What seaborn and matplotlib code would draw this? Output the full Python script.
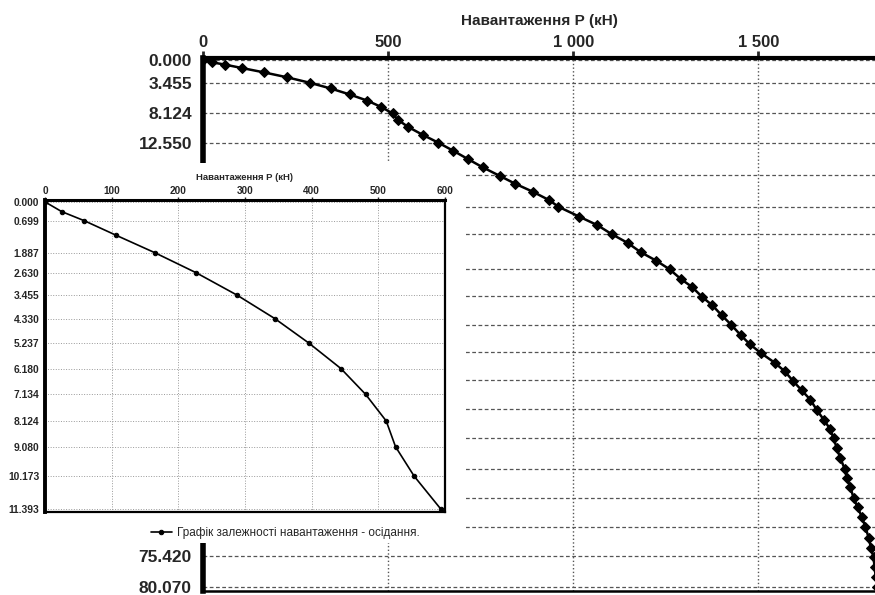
import matplotlib
matplotlib.use("Agg")
import matplotlib.pyplot as plt
import matplotlib.ticker as mticker
from matplotlib.patches import Rectangle
import seaborn as sns
import pandas as pd

# ---------------- data ----------------
load_kN = [0, 25, 59, 106, 165, 227, 288, 345, 396, 444, 481, 512, 526, 554, 594,
           635, 676, 716, 755, 801, 843, 890, 935, 960, 1016, 1065, 1105, 1147, 1182, 1224,
           1260, 1291, 1321, 1348, 1376, 1401, 1426, 1452, 1477, 1506, 1544, 1571, 1594, 1617, 1640,
           1658, 1677, 1694, 1703, 1712, 1721, 1733, 1739, 1748, 1757, 1768, 1780, 1789, 1798, 1804,
           1811, 1814, 1817, 1820]
settlement = [0.000, 0.36, 0.699, 1.23, 1.887, 2.630, 3.455, 4.330, 5.237, 6.180, 7.134, 8.124, 9.080, 10.173, 11.393,
              12.550, 13.8, 15.07, 16.3, 17.6, 18.8, 20.0, 21.3, 22.3, 23.8, 25.1, 26.5, 27.8, 29.2, 30.5,
              31.8, 33.3, 34.5, 36.0, 37.3, 38.8, 40.2, 41.8, 43.2, 44.5, 46.0, 47.3, 48.8, 50.2, 51.6,
              53.2, 54.7, 56.1, 57.5, 59.0, 60.5, 62.1, 63.5, 64.9, 66.5, 68.0, 69.5, 71.0, 72.6, 74.1,
              75.6, 77.1, 78.6, 80.07]
n_inset = 15

main_xticks = [0, 500, 1000, 1500]
main_xticklabels = ["0", "500", "1 000", "1 500"]
main_yticks = [0.000, 3.455, 8.124, 12.550, 17.5, 22.4, 26.5, 31.8, 35.9, 40.2, 44.4,
               48.7, 53.1, 57.4, 62.1, 66.5, 70.9, 75.420, 80.070]
# labels of the middle ticks are covered by the inset in the original
main_yticklabels = ["0.000", "3.455", "8.124", "12.550"] + [""] * 13 + ["75.420", "80.070"]
inset_xticks = [0, 100, 200, 300, 400, 500, 600]
inset_yticks = [0.000, 0.699, 1.887, 2.630, 3.455, 4.330, 5.237, 6.180, 7.134,
                8.124, 9.080, 10.173, 11.393]

x_label = "Навантаження Р (кН)"
legend_label = "Графік залежності навантаження - осідання."

df = pd.DataFrame({"P": load_kN, "s": settlement})
df_in = df.iloc[:n_inset]

# ---------------- style ----------------
sns.set_style("white")
plt.rcParams["font.family"] = ["Liberation Sans", "DejaVu Sans"]
plt.rcParams["font.weight"] = "bold"

fig = plt.figure(figsize=(8.75, 5.95), dpi=100)

# ---------------- main axes ----------------
ax = fig.add_axes([0.232, 0.0067, 0.768, 0.8958])
sns.lineplot(data=df, x="P", y="s", sort=False, ax=ax, color="black", lw=1.8,
             marker="D", markersize=4.6, markeredgecolor="black", markerfacecolor="black",
             legend=False)
ax.set_xlim(0, 1815)
ax.set_ylim(80.7, -0.3)
ax.set_xticks(main_xticks)
ax.set_xticklabels(main_xticklabels)
ax.set_yticks(main_yticks)
ax.set_yticklabels(main_yticklabels)
ax.xaxis.tick_top()
ax.xaxis.set_label_position("top")
ax.set_xlabel(x_label, fontsize=11, fontweight="bold")
ax.xaxis.set_label_coords(0.5, 1.062)
ax.set_ylabel("")
ax.tick_params(axis="y", direction="out", length=6, width=2, labelsize=12.5, pad=2)
ax.tick_params(axis="x", direction="out", length=5, width=2, labelsize=12, pad=1)
ax.grid(axis="y", linestyle=(0, (3, 2)), color="#555555", lw=0.9)
ax.grid(axis="x", linestyle=":", color="#555555", lw=1.0)
for side, lw in [("left", 4), ("top", 3), ("bottom", 1.8)]:
    ax.spines[side].set_linewidth(lw)
    ax.spines[side].set_color("black")
ax.spines["right"].set_visible(False)

# white cover behind inset
cover = Rectangle((0, 0.0874), 0.531, 0.639, transform=fig.transFigure,
                  facecolor="white", edgecolor="none", zorder=1)
fig.patches.append(cover)

# ---------------- inset ----------------
ins = fig.add_axes([0.0514, 0.1395, 0.457, 0.5244])
ins.set_zorder(2)
sns.lineplot(data=df_in, x="P", y="s", sort=False, ax=ins, color="black", lw=1.2,
             marker="o", markersize=3.2, markeredgecolor="black", label=legend_label)
ins.set_xlim(0, 600)
ins.set_ylim(11.5, -0.07)
ins.set_xticks(inset_xticks)
ins.set_yticks(inset_yticks)
ins.yaxis.set_major_formatter(mticker.FormatStrFormatter("%.3f"))
ins.xaxis.tick_top()
ins.xaxis.set_label_position("top")
ins.set_xlabel(x_label, fontsize=6.8, fontweight="bold")
ins.xaxis.set_label_coords(0.5, 1.064)
ins.set_ylabel("")
ins.tick_params(axis="y", direction="out", length=3, width=1, labelsize=7.4, pad=1)
ins.tick_params(axis="x", direction="out", length=2.5, width=1, labelsize=7.2, pad=0.5)
ins.grid(True, linestyle=":", color="#999999", lw=0.7)
for side, lw in [("left", 2.8), ("top", 2.2), ("right", 1.6), ("bottom", 1.6)]:
    ins.spines[side].set_linewidth(lw)
    ins.spines[side].set_color("black")
leg = ins.legend(loc="upper center", bbox_to_anchor=(0.6, -0.015), frameon=False,
                 fontsize=8.5, handlelength=1.8, handletextpad=0.4)
for t in leg.get_texts():
    t.set_fontweight("normal")

fig.savefig("out.png", dpi=100)
